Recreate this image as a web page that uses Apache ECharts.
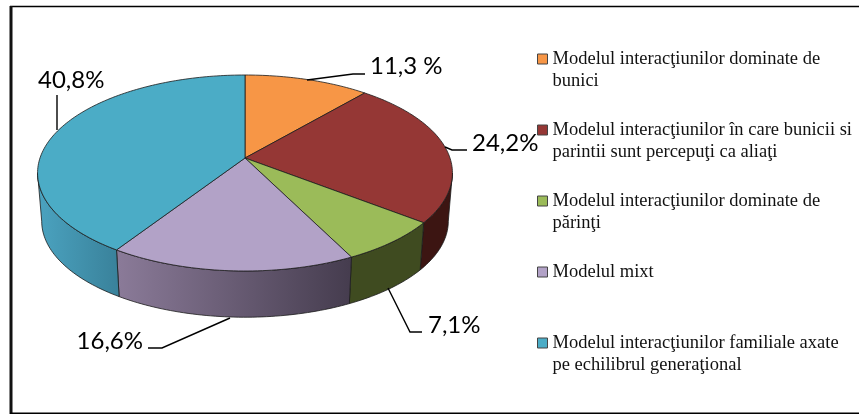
<!DOCTYPE html>
<html>
<head>
<meta charset="utf-8">
<script src="https://cdn.jsdelivr.net/npm/echarts@6/dist/echarts.min.js"></script>
<style>
html, body { margin: 0; padding: 0; background: #fff; }
#main { width: 859px; height: 414px; }
</style>
</head>
<body>
<div id="main"></div>
<script>
var categories = [
    'Modelul interacţiunilor dominate de\nbunici',
    'Modelul interacţiunilor în care bunicii si\nparintii sunt percepuţi ca aliaţi',
    'Modelul interacţiunilor dominate de\npărinţi',
    'Modelul mixt',
    'Modelul interacţiunilor familiale axate\npe echilibrul generaţional'
];
var values = [11.3, 24.2, 7.1, 16.6, 40.8];
var valueLabels = ['11,3 %', '24,2%', '7,1%', '16,6%', '40,8%'];

var topColors = ['#f79646', '#953735', '#9bbb59', '#b2a2c7', '#4bacc6'];
var sideFrom = ['#b06a30', '#3c1512', '#3f4b20', '#8b7b99', '#4ba3c0'];
var sideTo = ['#b06a30', '#3c1512', '#3f4b20', '#453c4e', '#39819a'];

// 3D look: perspective projection of the unit circle
var cx = 245, cy = 158, ax = 205, ay = 95.7, persp = 0.153;
var depth = 48.5, bottomScale = 0.98;
// angles where the rim turns away from the viewer
var foldR = Math.acos(-persp), foldL = Math.PI * 2 - foldR;

// label anchors and leader lines, one per slice
var labelAt = [[370, 66, 'left'], [472, 143, 'left'], [428, 325, 'left'], [143, 341, 'right'], [38, 80, 'left']];
var leaders = [
    [[307, 80], [353, 74], [365, 74]],
    [[445, 147], [452, 150], [467, 150]],
    [[388, 288], [410, 332], [422, 332]],
    [[230, 318], [162, 348], [148, 348]],
    [[57, 95], [57, 130]]
];

var total = values.reduce(function (a, b) { return a + b; }, 0);

function project(angle, bottom) {
    var u = Math.sin(angle), v = Math.cos(angle);
    var d = 1 + persp * v;
    var x = ax * u / d, y = -ay * v / d;
    if (bottom) {
        return [cx + x * bottomScale, cy + y * bottomScale + depth];
    }
    return [cx + x, cy + y];
}

function arc(a0, a1, bottom) {
    var pts = [];
    var n = Math.max(2, Math.ceil((a1 - a0) / 0.02));
    for (var i = 0; i <= n; i++) {
        pts.push(project(a0 + (a1 - a0) * i / n, bottom));
    }
    return pts;
}

function sliceRenderer(idx) {
    var before = 0;
    for (var i = 0; i < idx; i++) before += values[i];
    return function (params, api) {
        var a0 = before / total * Math.PI * 2;
        var a1 = (before + api.value(0)) / total * Math.PI * 2;
        var children = [];
        // only the front part of the rim is drawn
        var s0 = Math.max(a0, foldR), s1 = Math.min(a1, foldL);
        if (s1 > s0) {
            children.push({
                type: 'polygon',
                z2: 1,
                shape: { points: arc(s0, s1, false).concat(arc(s0, s1, true).reverse()) },
                style: {
                    fill: new echarts.graphic.LinearGradient(0, 0, 1, 0, [
                        { offset: 0, color: sideFrom[idx] },
                        { offset: 1, color: sideTo[idx] }
                    ]),
                    stroke: '#1c1c1c',
                    lineWidth: 0.8
                }
            });
        }
        children.push({
            type: 'polygon',
            z2: 2,
            shape: { points: [[cx, cy]].concat(arc(a0, a1, false)) },
            style: { fill: topColors[idx], stroke: '#1c1c1c', lineWidth: 0.8 }
        }, {
            type: 'polyline',
            z2: 3,
            shape: { points: leaders[idx] },
            style: { fill: null, stroke: '#000', lineWidth: 1.4 }
        }, {
            type: 'text',
            z2: 3,
            style: {
                text: valueLabels[idx],
                x: labelAt[idx][0],
                y: labelAt[idx][1],
                align: labelAt[idx][2],
                verticalAlign: 'middle',
                font: '24px Lato',
                fill: '#000'
            }
        });
        return { type: 'group', children: children };
    };
}

var myChart = echarts.init(document.getElementById('main'));

var series = categories.map(function (name, i) {
    return {
        type: 'custom',
        name: name,
        coordinateSystem: 'none',
        silent: true,
        animation: false,
        itemStyle: { color: topColors[i] },
        data: [[values[i]]],
        renderItem: sliceRenderer(i)
    };
});

myChart.setOption({
    animation: false,
    backgroundColor: '#fff',
    legend: {
        orient: 'vertical',
        left: 537,
        top: 26,
        padding: 0,
        itemWidth: 10,
        itemHeight: 10,
        itemGap: 5,
        selectedMode: false,
        data: categories,
        icon: 'rect',
        itemStyle: { borderColor: '#444', borderWidth: 1 },
        // blank first line keeps the swatch level with the first text line
        formatter: function (name) {
            return name.indexOf('\n') < 0 ? '\n' + name + '\n ' : '\n' + name;
        },
        textStyle: {
            fontFamily: 'Liberation Serif',
            fontSize: 18.5,
            lineHeight: 22,
            color: '#111'
        }
    },
    graphic: [
        { type: 'line', shape: { x1: 10, y1: 6.5, x2: 859, y2: 6.5 }, style: { stroke: '#000', lineWidth: 1.6 }, silent: true },
        { type: 'line', shape: { x1: 11, y1: 6, x2: 11, y2: 414 }, style: { stroke: '#111', lineWidth: 3 }, silent: true },
        { type: 'line', shape: { x1: 10, y1: 413.2, x2: 859, y2: 413.2 }, style: { stroke: '#000', lineWidth: 1.6 }, silent: true }
    ],
    series: series
});
</script>
</body>
</html>
